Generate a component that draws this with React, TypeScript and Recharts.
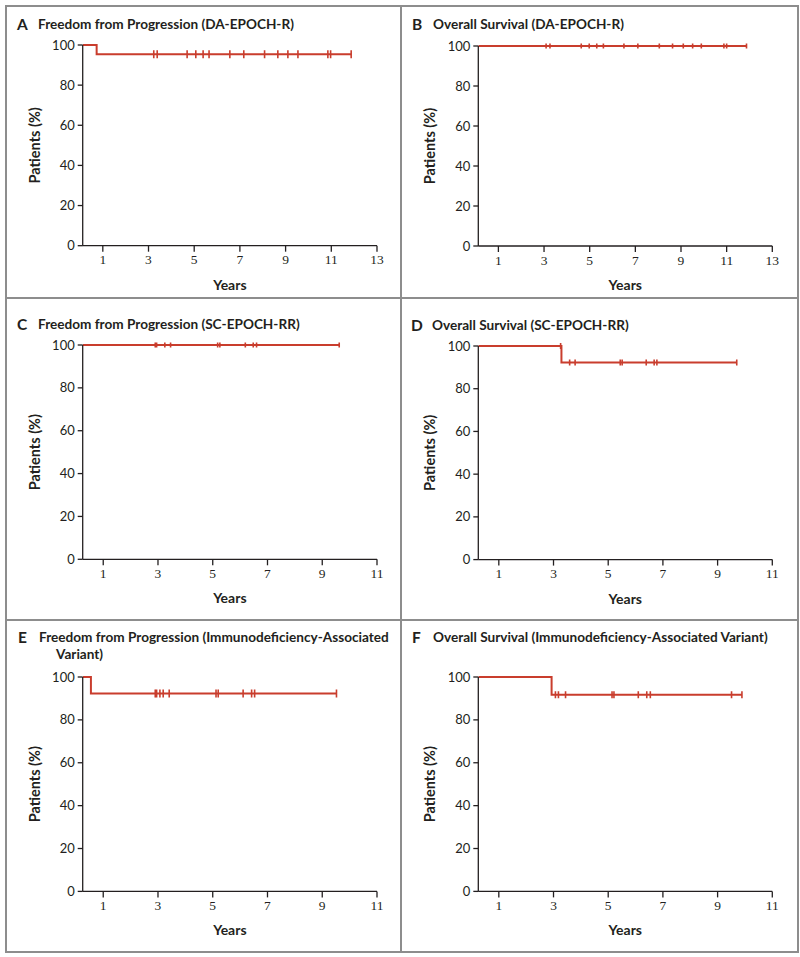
import React from 'react';
import { ComposedChart, Line, Scatter, XAxis, YAxis } from 'recharts';

// Kaplan-Meier curves: event times (first = start of axis), survival %, censor times
const aTimes = [0.12, 0.73];
const aSurv = [100, 95.4];
const aCensor = [3.23, 3.38, 4.69, 5.07, 5.39, 5.65, 6.56, 7.17, 8.08, 8.66, 9.1, 9.54, 10.85, 10.97, 11.87];

const bTimes = [0.12];
const bSurv = [100];
const bCensor = [3.09, 3.26, 4.63, 4.98, 5.31, 5.6, 6.5, 7.11, 8.05, 8.63, 9.1, 9.51, 9.89, 10.88, 11.0, 11.87];

const cTimes = [0.25];
const cSurv = [100];
const cCensor = [2.9, 2.95, 3.25, 3.46, 5.18, 5.26, 6.19, 6.48, 6.6, 9.62];

const dTimes = [0.25, 3.29];
const dSurv = [100, 92.3];
const dCensor = [3.26, 3.59, 3.79, 5.44, 5.51, 6.39, 6.68, 6.78, 9.7];

const eTimes = [0.25, 0.55];
const eSurv = [100, 92.3];
const eCensor = [2.9, 2.95, 3.07, 3.19, 3.41, 5.12, 5.2, 6.11, 6.42, 6.53, 9.52];

const fTimes = [0.25, 2.93];
const fSurv = [100, 91.7];
const fCensor = [3.07, 3.18, 3.44, 5.14, 5.21, 6.1, 6.41, 6.54, 9.51, 9.89];

const ticks13 = [1, 3, 5, 7, 9, 11, 13];
const ticks11 = [1, 3, 5, 7, 9, 11];
const yTicks = [0, 20, 40, 60, 80, 100];

const RED = '#c93d2d';
const INK = '#231f20';
const SANS = 'Lato, "Open Sans", sans-serif';
const SERIF = '"Liberation Serif", "DejaVu Serif", serif';

const survAt = (times: number[], surv: number[], t: number) => {
  let s = surv[0];
  times.forEach((tt, i) => {
    if (tt <= t) s = surv[i];
  });
  return s;
};

const censorShape = (h: number) => (props: any) => {
  const { cx, cy } = props;
  return <line x1={cx} x2={cx} y1={cy - h / 2} y2={cy + h / 2} stroke={RED} strokeWidth={1.6} />;
};

interface PanelProps {
  colX: number;
  plotLeft: number;
  plotRight: number;
  plotTop: number;
  plotBottom: number;
  xMin: number;
  xMax: number;
  xTicks: number[];
  times: number[];
  surv: number[];
  censor: number[];
  tickH: number;
}

const KMChart = (p: PanelProps) => {
  const lastT = p.censor[p.censor.length - 1];
  const lineData = [
    ...p.times.map((t, i) => ({ t, s: p.surv[i] })),
    { t: lastT, s: p.surv[p.surv.length - 1] },
  ];
  const censorData = p.censor.map((t) => ({ t, s: survAt(p.times, p.surv, t) }));
  const yW = 60;
  const top = 10;
  const xH = 55;
  const width = 400;
  const height = p.plotBottom - p.plotTop + top + xH;
  return (
    <div style={{ position: 'absolute', left: p.colX, top: p.plotTop - top }}>
      <ComposedChart
        width={width}
        height={height}
        margin={{ top, right: width - (p.plotRight - p.colX), bottom: 0, left: p.plotLeft - p.colX - yW }}
      >
        <XAxis
          type="number"
          dataKey="t"
          domain={[p.xMin, p.xMax]}
          ticks={p.xTicks}
          allowDataOverflow
          height={xH}
          tickSize={6}
          tickMargin={3}
          stroke={INK}
          strokeWidth={1.3}
          tick={{ fill: INK, fontSize: 13.5, fontFamily: SERIF }}
          label={{
            value: 'Years',
            position: 'insideBottom',
            offset: 11,
            style: { fontFamily: SANS, fontWeight: 700, fontSize: 14, fill: INK },
          }}
        />
        <YAxis
          type="number"
          dataKey="s"
          domain={[0, 100]}
          ticks={yTicks}
          width={yW}
          tickSize={5}
          tickMargin={3}
          stroke={INK}
          strokeWidth={1.3}
          tick={{ fill: INK, fontSize: 13, fontFamily: SANS }}
          label={{
            value: 'Patients (%)',
            angle: -90,
            position: 'insideLeft',
            offset: 12,
            style: { textAnchor: 'middle', fontFamily: SANS, fontWeight: 700, fontSize: 14.5, fill: INK },
          }}
        />
        <Line
          data={lineData}
          dataKey="s"
          type="stepAfter"
          stroke={RED}
          strokeWidth={2}
          dot={false}
          isAnimationActive={false}
        />
        <Scatter data={censorData} dataKey="s" shape={censorShape(p.tickH)} isAnimationActive={false} />
      </ComposedChart>
    </div>
  );
};

const Title = ({ x, y, letter, lines, indent }: { x: number; y: number; letter: string; lines: string[]; indent?: number }) => (
  <>
    <div
      style={{
        position: 'absolute',
        left: x,
        top: y - 10,
        height: 20,
        lineHeight: '20px',
        fontFamily: SANS,
        fontWeight: 700,
        fontSize: 15.5,
        color: INK,
      }}
    >
      {letter}
    </div>
    {lines.map((ln, i) => (
      <div
        key={i}
        style={{
          position: 'absolute',
          left: x + 21 + (i > 0 ? indent || 0 : 0),
          top: y - 10 + i * 17,
          height: 20,
          lineHeight: '20px',
          fontFamily: SANS,
          fontWeight: 700,
          fontSize: 13.6,
          color: INK,
          whiteSpace: 'nowrap',
        }}
      >
        {ln}
      </div>
    ))}
  </>
);

const BORDER = '#8d8d8d';

export default function App() {
  return (
    <div style={{ position: 'absolute', left: 0, top: 0, width: 800, height: 957, background: '#fff' }}>
      <div style={{ position: 'absolute', left: 5, top: 5, width: 790, height: 944, border: `2px solid ${BORDER}` }} />
      <div style={{ position: 'absolute', left: 400, top: 5, width: 2, height: 946, background: BORDER }} />
      <div style={{ position: 'absolute', left: 5, top: 297, width: 792, height: 2, background: BORDER }} />
      <div style={{ position: 'absolute', left: 5, top: 619, width: 792, height: 2, background: BORDER }} />

      <Title x={17} y={24} letter="A" lines={['Freedom from Progression (DA-EPOCH-R)']} />
      <Title x={412} y={24} letter="B" lines={['Overall Survival (DA-EPOCH-R)']} />
      <Title x={17} y={324} letter="C" lines={['Freedom from Progression (SC-EPOCH-RR)']} />
      <Title x={411} y={325} letter="D" lines={['Overall Survival (SC-EPOCH-RR)']} />
      <Title
        x={18}
        y={637}
        letter="E"
        lines={['Freedom from Progression (Immunodeficiency-Associated', 'Variant)']}
        indent={17}
      />
      <Title x={412} y={637} letter="F" lines={['Overall Survival (Immunodeficiency-Associated Variant)']} />

      <KMChart colX={0} plotLeft={82.7} plotRight={377} plotTop={45} plotBottom={245.7} xMin={0.12} xMax={13}
        xTicks={ticks13} times={aTimes} surv={aSurv} censor={aCensor} tickH={8} />
      <KMChart colX={396} plotLeft={478.3} plotRight={772.3} plotTop={45.7} plotBottom={245.7} xMin={0.12} xMax={13}
        xTicks={ticks13} times={bTimes} surv={bSurv} censor={bCensor} tickH={5} />
      <KMChart colX={0} plotLeft={82.7} plotRight={377} plotTop={345} plotBottom={559.3} xMin={0.25} xMax={11}
        xTicks={ticks11} times={cTimes} surv={cSurv} censor={cCensor} tickH={5} />
      <KMChart colX={396} plotLeft={478.3} plotRight={772.3} plotTop={345.7} plotBottom={559.3} xMin={0.25} xMax={11}
        xTicks={ticks11} times={dTimes} surv={dSurv} censor={dCensor} tickH={6} />
      <KMChart colX={0} plotLeft={82.7} plotRight={377} plotTop={677.3} plotBottom={891.7} xMin={0.25} xMax={11}
        xTicks={ticks11} times={eTimes} surv={eSurv} censor={eCensor} tickH={8} />
      <KMChart colX={396} plotLeft={478.3} plotRight={772.3} plotTop={677.3} plotBottom={891.7} xMin={0.25} xMax={11}
        xTicks={ticks11} times={fTimes} surv={fSurv} censor={fCensor} tickH={7} />
    </div>
  );
}
